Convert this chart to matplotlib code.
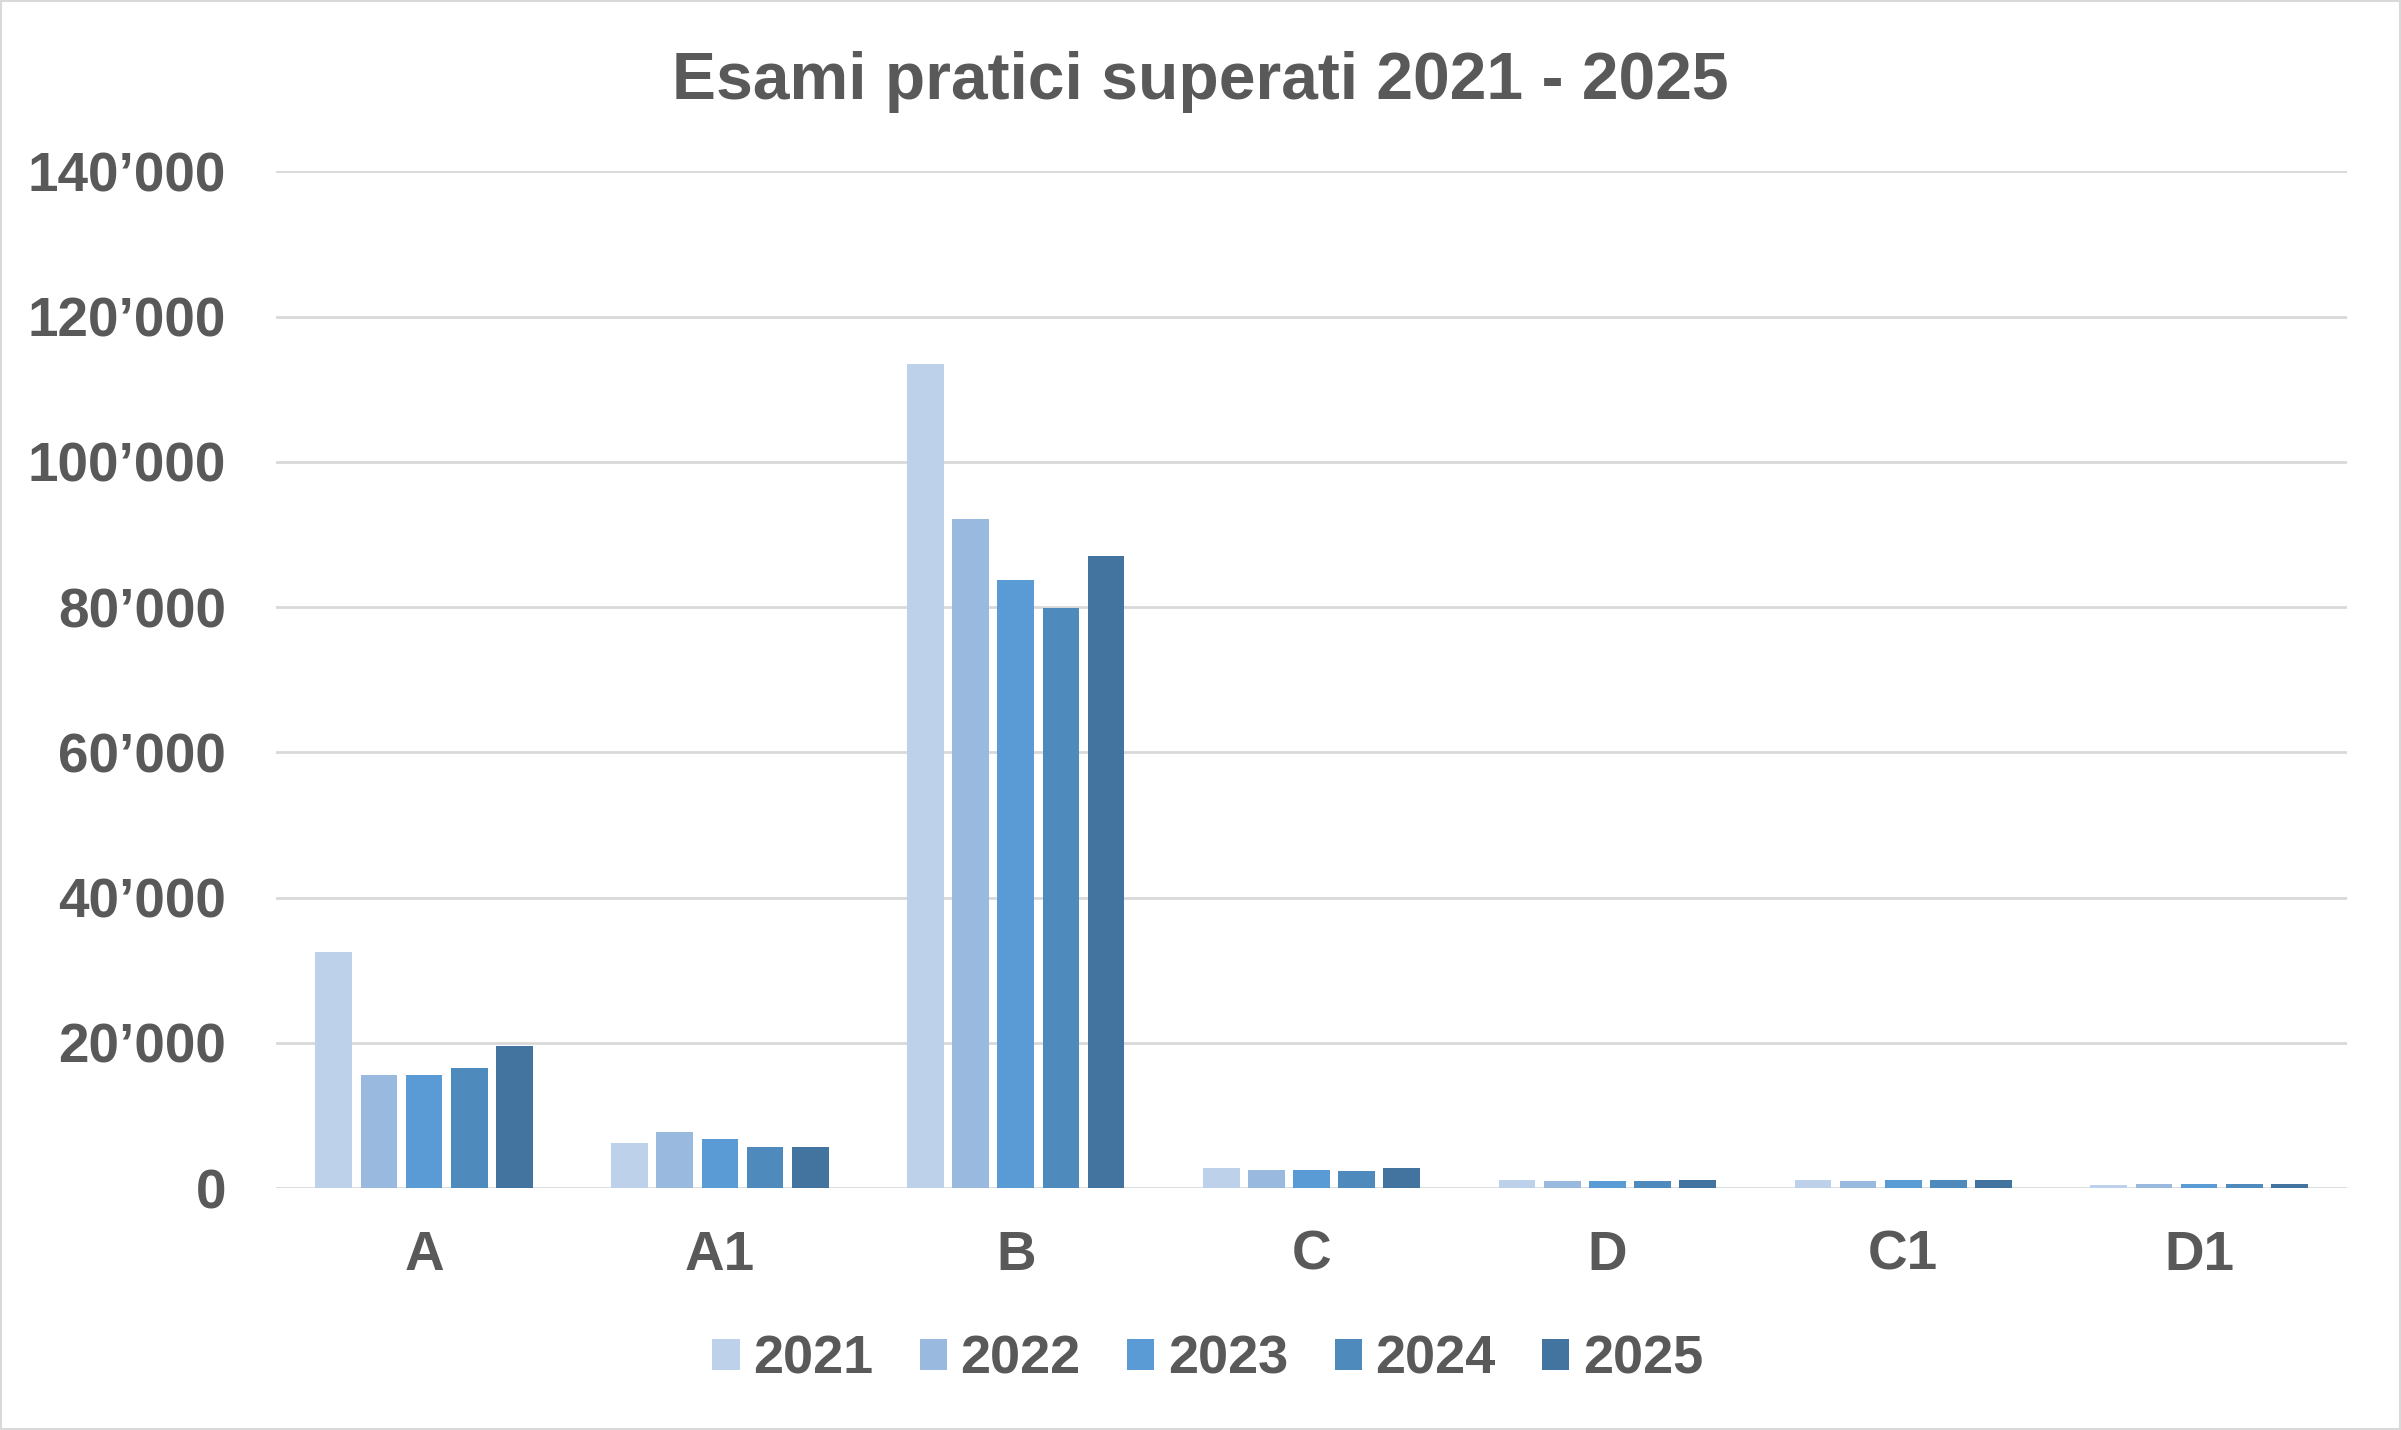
import matplotlib
matplotlib.use("Agg")
import matplotlib.pyplot as plt
from matplotlib.ticker import FuncFormatter
from matplotlib.patches import Rectangle
import numpy as np

# data
categories = ["A", "A1", "B", "C", "D", "C1", "D1"]
years = ["2021", "2022", "2023", "2024", "2025"]
v2021 = [32500, 6200, 113500, 2700, 1150, 1150, 450]
v2022 = [15600, 7700, 92100, 2500, 1000, 1000, 600]
v2023 = [15600, 6700, 83700, 2500, 1000, 1150, 600]
v2024 = [16600, 5600, 79900, 2400, 1000, 1150, 600]
v2025 = [19500, 5600, 87100, 2700, 1150, 1150, 600]
series = [v2021, v2022, v2023, v2024, v2025]
colors = ["#BED1EA", "#9AB9DF", "#5B9BD5", "#4F8ABC", "#4374A0"]

txt = "#595959"
plt.rcParams['font.family'] = ['Liberation Sans', 'DejaVu Sans']
plt.rcParams['font.weight'] = 'bold'

fig = plt.figure(figsize=(24.01, 14.30), dpi=100)
ax = fig.add_axes([0.1150, 0.1692, 0.8625, 0.7109])

x = np.arange(len(categories))
pitch = 0.1526
width = 0.124
for j, vals in enumerate(series):
    ax.bar(x + (j - 2) * pitch, vals, width, color=colors[j], label=years[j], zorder=3)

ax.set_xlim(-0.5, len(categories) - 0.5)
ax.set_ylim(0, 140000)
ax.set_yticks(np.arange(0, 140001, 20000))
ax.yaxis.set_major_formatter(FuncFormatter(lambda v, p: f"{int(v):,}".replace(",", "\u2019")))
ax.set_xticks(x)
ax.set_xticklabels(categories)

ax.grid(axis='y', color="#D9D9D9", linewidth=2.0, zorder=0)
for s in ax.spines.values():
    s.set_visible(False)
ax.tick_params(axis='both', length=0, labelsize=39.5, labelcolor=txt)
ax.tick_params(axis='y', pad=36)
ax.tick_params(axis='x', pad=30)

fig.text(0.5, 0.931, "Esami pratici superati 2021 - 2025", ha='center', va='baseline',
         fontsize=47.5, color=txt, fontweight='bold')

leg = ax.legend(loc='center', bbox_to_anchor=(0.503, 0.049), bbox_transform=fig.transFigure,
                ncol=5, frameon=False, fontsize=39, handlelength=0.5, handleheight=0.5,
                handletextpad=0.25, columnspacing=0.86)
for t in leg.get_texts():
    t.set_color(txt)

fig.patches.append(Rectangle((0.0005, 0.0008), 0.999, 0.9984, transform=fig.transFigure,
                             fill=False, edgecolor="#D9D9D9", linewidth=1.5))

fig.savefig("out.png", dpi=100)
